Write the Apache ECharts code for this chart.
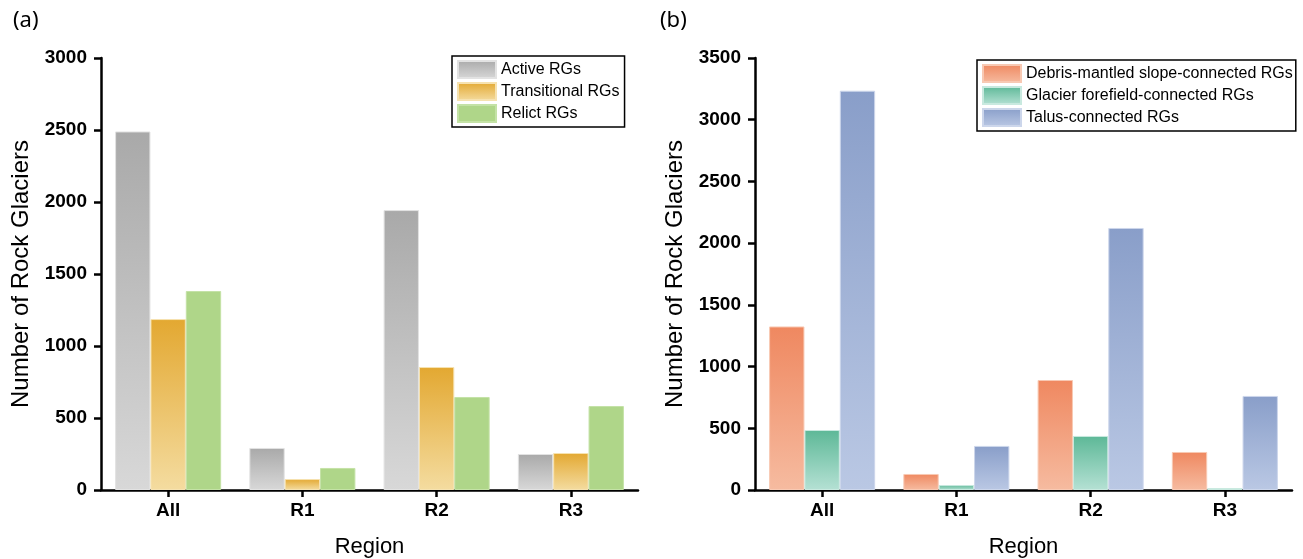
<!DOCTYPE html>
<html>
<head>
<meta charset="utf-8">
<script src="https://cdn.jsdelivr.net/npm/echarts@6/dist/echarts.min.js"></script>
<style>
  html, body { margin: 0; padding: 0; background: #fff; }
  #main { width: 1303px; height: 559px; }
</style>
</head>
<body>
<div id="main"></div>
<script>
var regions = ['All', 'R1', 'R2', 'R3'];

// panel (a)
var activeRGs = [2490, 292, 1944, 250];
var transitionalRGs = [1187, 76, 854, 257];
var relictRGs = [1382, 153, 646, 583];

// panel (b)
var debrisRGs = [1325, 130, 891, 308];
var glacierRGs = [486, 40, 438, 15];
var talusRGs = [3235, 357, 2123, 762];

function grad(top, bottom) {
  return new echarts.graphic.LinearGradient(0, 0, 0, 1, [
    { offset: 0, color: top },
    { offset: 1, color: bottom }
  ]);
}

var chart = echarts.init(document.getElementById('main'), null, { renderer: 'canvas' });

var axisLine = { show: true, lineStyle: { color: '#000', width: 2.5 } };
var tickFont = { color: '#000', fontFamily: 'Liberation Sans', fontWeight: 'bold', fontSize: 19 };

function xAxis(gi) {
  return {
    type: 'category',
    gridIndex: gi,
    data: regions,
    name: 'Region',
    nameLocation: 'middle',
    nameGap: 46,
    nameTextStyle: { color: '#000', fontFamily: 'Liberation Sans', fontSize: 22 },
    axisLine: axisLine,
    axisTick: { show: true, length: 7, alignWithLabel: true, lineStyle: { color: '#000', width: 2.5 } },
    axisLabel: Object.assign({ margin: 11 }, tickFont),
    splitLine: { show: false }
  };
}

function yAxis(gi, max) {
  return {
    type: 'value',
    gridIndex: gi,
    min: 0,
    max: max,
    interval: 500,
    name: 'Number of Rock Glaciers',
    nameLocation: 'middle',
    nameGap: 68,
    nameTextStyle: { color: '#000', fontFamily: 'Liberation Sans', fontSize: 24 },
    axisLine: axisLine,
    axisTick: { show: true, length: 7, lineStyle: { color: '#000', width: 2.5 } },
    axisLabel: Object.assign({ margin: 14, formatter: function (v) { return String(v); } }, tickFont),
    splitLine: { show: false }
  };
}

function bar(name, data, gi, color, border) {
  return {
    name: name,
    type: 'bar',
    xAxisIndex: gi,
    yAxisIndex: gi,
    data: data,
    barGap: '0%',
    barCategoryGap: '21%',
    itemStyle: { color: color, borderColor: border, borderWidth: 1 }
  };
}

var legendCommon = {
  orient: 'vertical',
  itemWidth: 38,
  itemHeight: 17,
  itemGap: 3,
  borderColor: '#000',
  borderWidth: 1.5,
  backgroundColor: '#fff',
  borderRadius: 0,
  icon: 'rect',
  textStyle: { color: '#000', fontFamily: 'Liberation Sans', fontSize: 16, lineHeight: 17 }
};

var option = {
  backgroundColor: '#fff',
  animation: false,
  title: [
    { text: '(a)', left: 8, top: 5, textStyle: { fontFamily: 'Noto Sans', fontWeight: 'normal', fontSize: 22, color: '#000' } },
    { text: '(b)', left: 655, top: 5, textStyle: { fontFamily: 'Noto Sans', fontWeight: 'normal', fontSize: 22, color: '#000' } }
  ],
  legend: [
    Object.assign({}, legendCommon, {
      data: ['Active RGs', 'Transitional RGs', 'Relict RGs'],
      left: 452, top: 56,
      padding: [4, 5, 4, 5]
    }),
    Object.assign({}, legendCommon, {
      data: ['Debris-mantled slope-connected RGs', 'Glacier forefield-connected RGs', 'Talus-connected RGs'],
      left: 977, top: 60,
      padding: [4, 3, 4, 5]
    })
  ],
  grid: [
    { left: 101, right: 665, top: 58, bottom: 69, outerBoundsMode: 'none' },
    { left: 755, right: 11, top: 58, bottom: 69, outerBoundsMode: 'none' }
  ],
  xAxis: [xAxis(0), xAxis(1)],
  yAxis: [yAxis(0, 3000), yAxis(1, 3500)],
  series: [
    bar('Active RGs', activeRGs, 0, grad('#a9a9a9', '#d8d8d8'), '#e2e2e2'),
    bar('Transitional RGs', transitionalRGs, 0, grad('#e3a831', '#f4dca0'), '#f6e2b0'),
    bar('Relict RGs', relictRGs, 0, '#afd689', '#c4e2a6'),
    bar('Debris-mantled slope-connected RGs', debrisRGs, 1, grad('#ef8860', '#f6bba0'), '#f8c9b3'),
    bar('Glacier forefield-connected RGs', glacierRGs, 1, grad('#5db897', '#b5e1d4'), '#c8e9df'),
    bar('Talus-connected RGs', talusRGs, 1, grad('#899ec9', '#bac8e4'), '#ccd6eb')
  ]
};

chart.setOption(option);
</script>
</body>
</html>
